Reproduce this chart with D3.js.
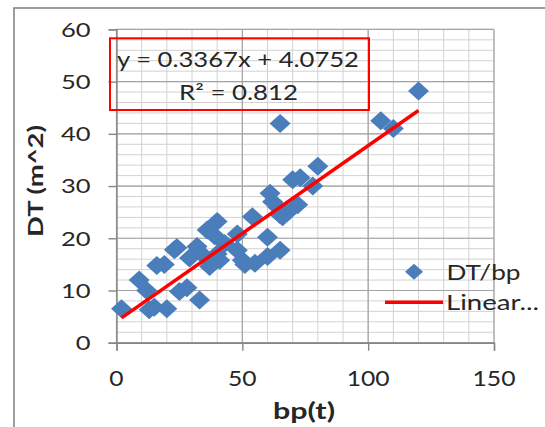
<!DOCTYPE html>
<html>
<head>
<meta charset="utf-8">
<script src="https://cdn.jsdelivr.net/npm/d3@7"></script>
<style>
  html, body { margin: 0; padding: 0; background: #fff; }
  svg { display: block; }
</style>
</head>
<body>
<script>
// ---- data ----
const bp = [2, 9, 12, 13, 15, 16, 19, 20, 23, 24, 25, 28, 29, 32, 33, 35, 36, 37, 39, 40, 40, 41, 43, 48, 48, 50, 51, 54, 55, 60, 60, 61, 62, 64, 65, 65, 66, 65, 68, 70, 72, 73, 78, 80, 105, 110, 120];
const dt = [6.5, 12, 10, 6.3, 6.8, 14.8, 15, 6.5, 17.8, 18.2, 9.8, 10.5, 16.2, 18.4, 8.2, 16.5, 21.6, 14.6, 20.5, 23.2, 17, 15.8, 19, 20.8, 17.7, 15.8, 15, 24.1, 15.2, 20.2, 16.5, 28.6, 27, 26, 17.7, 24.5, 24.1, 42, 25, 31.2, 26.4, 31.6, 30, 33.8, 42.5, 41, 48.2];
const xTicks = [0, 50, 100, 150];
const yTicks = [0, 10, 20, 30, 40, 50, 60];
const slope = 0.3367;
const intercept = 4.0752;
const equationText = "y = 0.3367x + 4.0752";
const r2Text = "R² = 0.812";
const seriesName = "DT/bp";
const trendName = "Linear...";
const xTitle = "bp(t)";
const yTitle = "DT (m^2)";

const W = 545, H = 427;
const FONT = "Lato, 'Open Sans', sans-serif";
const svg = d3.select("body").append("svg").attr("width", W).attr("height", H);

// chart border
svg.append("rect").attr("x", 14).attr("y", 8).attr("width", 600).attr("height", 500)
  .attr("fill", "none").attr("stroke", "#868686").attr("stroke-width", 1.6);

const x = d3.scaleLinear().domain([0, 150]).range([116.5, 494]);
const y = d3.scaleLinear().domain([0, 60]).range([342.7, 29.4]);

// minor grid
const g = svg.append("g");
g.selectAll("line.mx").data(d3.range(0, 151, 10)).join("line")
  .attr("x1", d => x(d)).attr("x2", d => x(d)).attr("y1", y(0)).attr("y2", y(60))
  .attr("stroke", "#d2d2d2").attr("stroke-width", 1);
g.selectAll("line.my").data(d3.range(0, 61, 2)).join("line")
  .attr("y1", d => y(d)).attr("y2", d => y(d)).attr("x1", x(0)).attr("x2", x(150))
  .attr("stroke", "#d2d2d2").attr("stroke-width", 1);
// major grid
g.selectAll("line.Mx").data(xTicks).join("line")
  .attr("x1", d => x(d)).attr("x2", d => x(d)).attr("y1", y(0)).attr("y2", y(60))
  .attr("stroke", "#a3a3a3").attr("stroke-width", 1.2);
g.selectAll("line.My").data(yTicks).join("line")
  .attr("y1", d => y(d)).attr("y2", d => y(d)).attr("x1", x(0)).attr("x2", x(150))
  .attr("stroke", "#a3a3a3").attr("stroke-width", 1.2);

// axes
const ax = svg.append("g").attr("transform", `translate(0,${y(0)})`)
  .call(d3.axisBottom(x).tickValues(xTicks).tickSize(8).tickFormat(""));
const ay = svg.append("g").attr("transform", `translate(${x(0)},0)`)
  .call(d3.axisLeft(y).tickValues(yTicks).tickSize(8).tickFormat(""));
[ax, ay].forEach(a => {
  a.select(".domain").attr("stroke", "#868686").attr("stroke-width", 1.4);
  a.selectAll(".tick line").attr("stroke", "#868686").attr("stroke-width", 1.4);
});

// tick labels
svg.selectAll("text.xt").data(xTicks).join("text")
  .attr("x", d => x(d)).attr("y", 385.5)
  .attr("text-anchor", "middle").attr("font-family", FONT).attr("font-size", 22)
  .attr("fill", "#262626")
  .attr("textLength", d => String(d).length * 14.3).attr("lengthAdjust", "spacingAndGlyphs")
  .text(d => d);
svg.selectAll("text.yt").data(yTicks).join("text")
  .attr("x", 90.5).attr("y", d => y(d) + 7.3)
  .attr("text-anchor", "end").attr("font-family", FONT).attr("font-size", 20)
  .attr("fill", "#262626")
  .attr("textLength", d => String(d).length * 14.8).attr("lengthAdjust", "spacingAndGlyphs")
  .text(d => d);

// axis titles
svg.append("text").attr("x", 304).attr("y", 419)
  .attr("text-anchor", "middle").attr("font-family", FONT).attr("font-weight", "bold")
  .attr("font-size", 23).attr("fill", "#262626")
  .attr("textLength", 62).attr("lengthAdjust", "spacingAndGlyphs").text(xTitle);
svg.append("text").attr("transform", "translate(43,181) rotate(-90)")
  .attr("text-anchor", "middle").attr("font-family", FONT).attr("font-weight", "bold")
  .attr("font-size", 21).attr("fill", "#262626")
  .attr("textLength", 112).attr("lengthAdjust", "spacingAndGlyphs").text(yTitle);

// data points
const pts = bp.map((v, i) => [v, dt[i]]);
const diamond = (cx, cy, hw, hh) => `M${cx},${cy - hh}L${cx + hw},${cy}L${cx},${cy + hh}L${cx - hw},${cy}Z`;
svg.append("g").selectAll("path").data(pts).join("path")
  .attr("d", d => diamond(x(d[0]), y(d[1]), 10.5, 9.5))
  .attr("fill", "#4a7ebb");

// trend line
const x0 = d3.min(bp), x1 = d3.max(bp);
svg.append("line")
  .attr("x1", x(x0)).attr("y1", y(slope * x0 + intercept))
  .attr("x2", x(x1)).attr("y2", y(slope * x1 + intercept))
  .attr("stroke", "#ff0000").attr("stroke-width", 3.5);

// equation box
svg.append("rect").attr("x", 110).attr("y", 38.3).attr("width", 259).attr("height", 71.7)
  .attr("fill", "none").attr("stroke", "#ff0000").attr("stroke-width", 2);
svg.append("text").attr("x", 238).attr("y", 66.7).attr("text-anchor", "middle")
  .attr("font-family", FONT).attr("font-size", 21).attr("fill", "#262626")
  .attr("textLength", 242).attr("lengthAdjust", "spacingAndGlyphs").text(equationText);
svg.append("text").attr("x", 238.5).attr("y", 100).attr("text-anchor", "middle")
  .attr("font-family", FONT).attr("font-size", 21).attr("fill", "#262626")
  .attr("textLength", 119).attr("lengthAdjust", "spacingAndGlyphs").text(r2Text);

// legend
svg.append("path").attr("d", diamond(414, 271.7, 9, 8)).attr("fill", "#4a7ebb");
svg.append("text").attr("x", 446.5).attr("y", 280).attr("font-family", FONT)
  .attr("font-size", 22).attr("fill", "#262626")
  .attr("textLength", 74).attr("lengthAdjust", "spacingAndGlyphs").text(seriesName);
svg.append("line").attr("x1", 385).attr("x2", 443).attr("y1", 302.3).attr("y2", 302.3)
  .attr("stroke", "#ff0000").attr("stroke-width", 3.5);
svg.append("text").attr("x", 446).attr("y", 310).attr("font-family", FONT)
  .attr("font-size", 22).attr("fill", "#262626")
  .attr("textLength", 93).attr("lengthAdjust", "spacingAndGlyphs").text(trendName);
</script>
</body>
</html>
